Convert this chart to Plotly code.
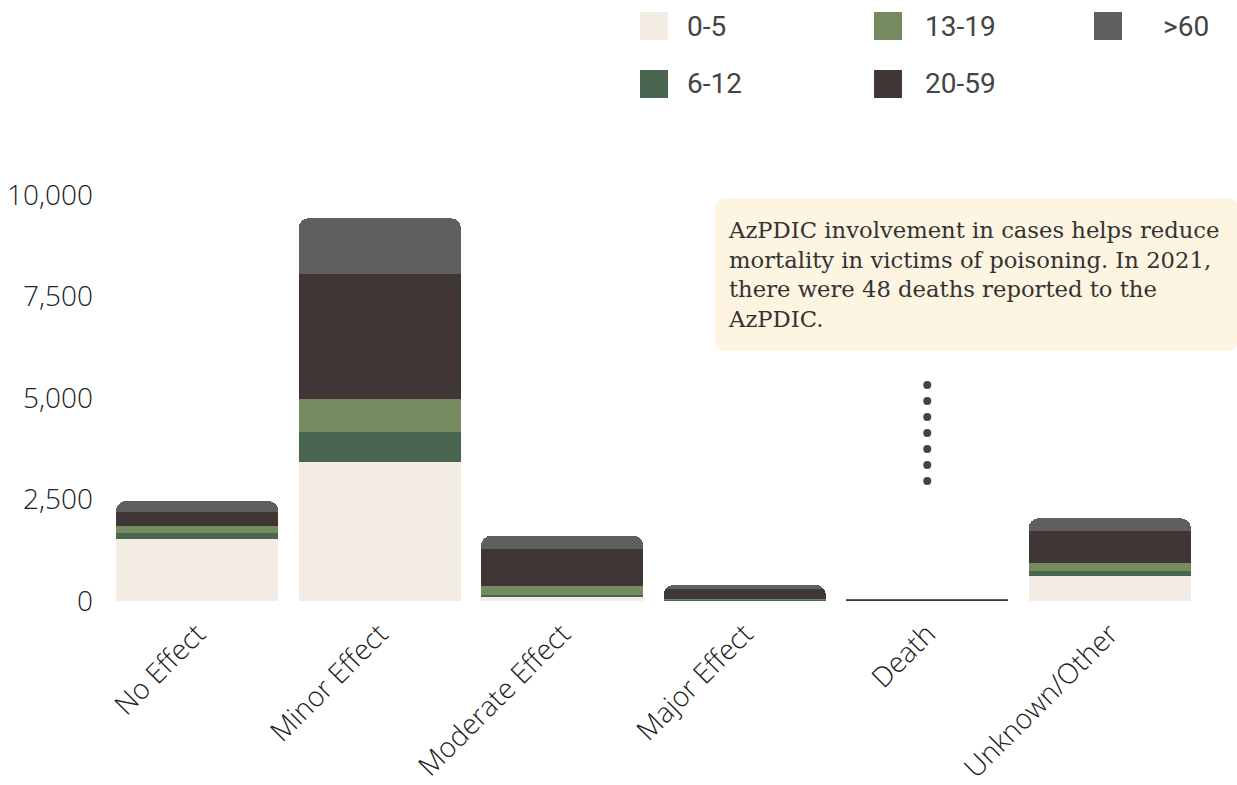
import plotly.graph_objects as go

categories = ["No Effect", "Minor Effect", "Moderate Effect", "Major Effect", "Death", "Unknown/Other"]
age_groups = ["0-5", "6-12", "13-19", "20-59", ">60"]
age_0_5 = [1527, 3424, 115, 10, 1, 616]
age_6_12 = [148, 739, 32, 15, 2, 123]
age_13_19 = [172, 813, 230, 30, 5, 197]
age_20_59 = [353, 3079, 904, 230, 28, 788]
age_over_60 = [263, 1372, 328, 105, 12, 313]
series_values = [age_0_5, age_6_12, age_13_19, age_20_59, age_over_60]
colors = ["#F3ECE5", "#4A6550", "#758A5F", "#403635", "#5F5F5F"]
y_tick_values = [0, 2500, 5000, 7500, 10000]
y_tick_labels = ["0", "2,500", "5,000", "7,500", "10,000"]
note_text = ("AzPDIC involvement in cases helps reduce<br>mortality in victims of poisoning. In 2021,"
             "<br>there were 48 deaths reported to the<br>AzPDIC.")
connector_y = [5320, 4925, 4530, 4140, 3745, 3350, 2955]

W, H = 1237, 785
ML, MR, MT, MB = 106, 36, 195, 184
PW = W - ML - MR
PH = H - MT - MB


def px(x):
    return (x - ML) / PW


def py(y):
    return (H - MB - y) / PH


fig = go.Figure()
for name, vals, col in zip(age_groups, series_values, colors):
    fig.add_trace(go.Bar(x=categories, y=vals, name=name, marker=dict(color=col, line=dict(width=0)),
                         showlegend=False))

fig.add_trace(go.Scatter(x=["Death"] * len(connector_y), y=connector_y, mode="markers",
                         marker=dict(size=8, color="#444444"), showlegend=False, hoverinfo="skip"))

shapes = []
annotations = []

# custom legend (3 columns, column-wise order)
col_left = [640, 874, 1094]
text_left = [685, 923, 1161]
row_top = [12, 70]
sw = 28
for i, (name, col) in enumerate(zip(age_groups, colors)):
    c, r = i // 2, i % 2
    x0, y0 = col_left[c], row_top[r]
    shapes.append(dict(type="rect", xref="paper", yref="paper", x0=px(x0), x1=px(x0 + sw),
                       y0=py(y0 + sw), y1=py(y0), fillcolor=col, line=dict(width=0), layer="above"))
    annotations.append(dict(xref="paper", yref="paper", x=px(text_left[c]), y=py(y0 + sw / 2),
                            xanchor="left", yanchor="middle", text=name, showarrow=False,
                            font=dict(family="Roboto", size=28, color="#444444")))

# note box with rounded corners
bx0, bx1, by0, by1, rr = 715, 1238, 198, 351, 12
rx, ry = rr / PW, rr / PH
X0, X1, Y0, Y1 = px(bx0), px(bx1), py(by1), py(by0)
path = (f"M {X0+rx},{Y1} L {X1-rx},{Y1} Q {X1},{Y1} {X1},{Y1-ry} L {X1},{Y0+ry} Q {X1},{Y0} {X1-rx},{Y0} "
        f"L {X0+rx},{Y0} Q {X0},{Y0} {X0},{Y0+ry} L {X0},{Y1-ry} Q {X0},{Y1} {X0+rx},{Y1} Z")
shapes.append(dict(type="path", xref="paper", yref="paper", path=path, fillcolor="#FDF4E2",
                   line=dict(width=0), layer="below"))
annotations.append(dict(xref="paper", yref="paper", x=px(726), y=py((by0 + by1) / 2),
                        xanchor="left", yanchor="middle", align="left", text=note_text, showarrow=False,
                        font=dict(family="DejaVu Serif", size=22.7, color="#333333")))

fig.update_layout(
    barmode="stack",
    bargap=0.11,
    barcornerradius=10,
    width=W, height=H,
    margin=dict(l=ML, r=MR, t=MT, b=MB, autoexpand=False),
    paper_bgcolor="white", plot_bgcolor="white",
    shapes=shapes, annotations=annotations,
    showlegend=False,
    font=dict(family="Open Sans", color="#222222"),
)
fig.update_xaxes(showgrid=False, showline=False, zeroline=False, ticks="", tickangle=-45,
                 ticklabelstandoff=10,
                 tickfont=dict(family="Open Sans", size=28, color="#222222", weight=300))
fig.update_yaxes(range=[0, 10000], tickvals=y_tick_values, ticktext=y_tick_labels, showgrid=False,
                 showline=False, zeroline=False, ticks="", ticklabelstandoff=12,
                 tickfont=dict(family="Open Sans", size=28, color="#222222", weight=300))

fig.write_html("out.html", config={"displayModeBar": False})
